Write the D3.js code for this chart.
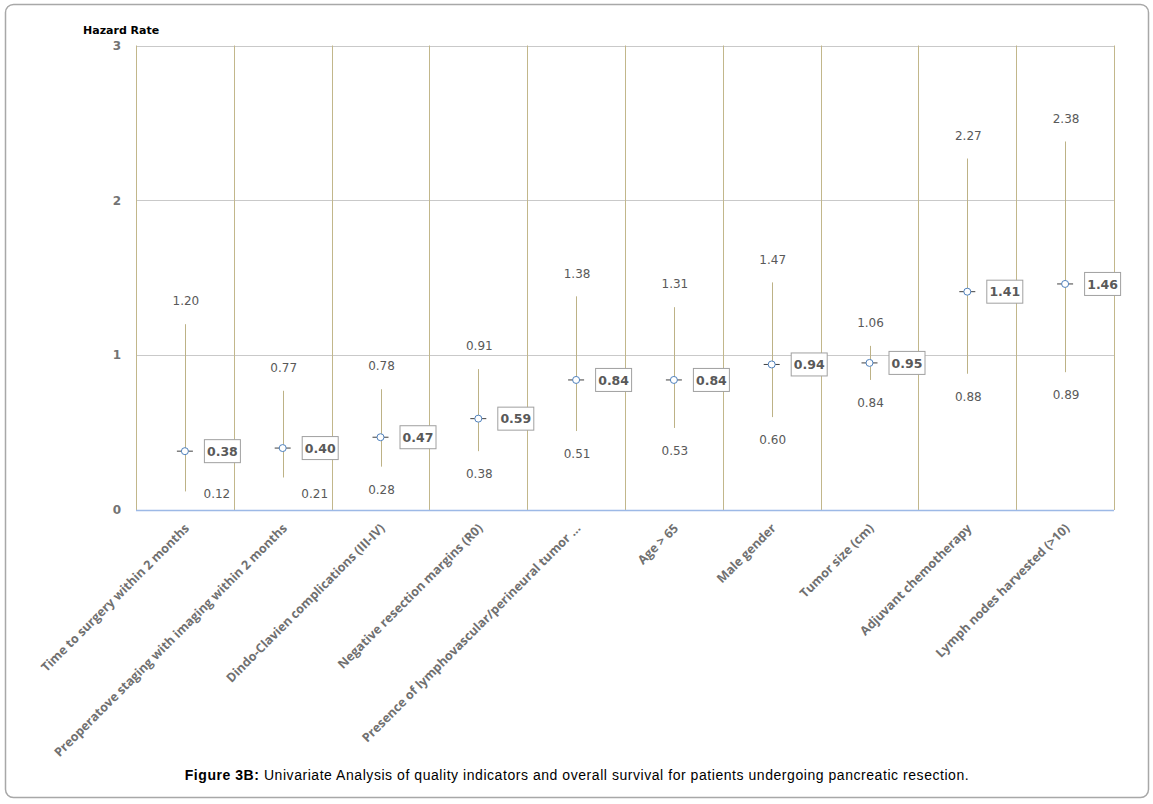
<!DOCTYPE html>
<html lang="en">
<head>
    <meta charset="UTF-8">
    <title>Figure 3B - Hazard Rate</title>
    <script src="https://cdn.jsdelivr.net/npm/d3@7"></script>
    <style>
        body {
            margin: 0;
            background: #ffffff;
        }
        .val {
            font-family: "DejaVu Sans", Verdana, sans-serif;
            font-size: 12px;
            fill: #595959;
        }
        .cat {
            font-family: "Open Sans", sans-serif;
            font-size: 12.5px;
            font-weight: bold;
            fill: #707070;
        }
        .caption {
            font-family: "Liberation Sans", Arial, sans-serif;
            font-size: 14px;
            letter-spacing: 0.55px;
            fill: #000;
        }
    </style>
</head>
<body>
    <svg id="chart" width="1153" height="804"></svg>
    <script>
        const categories = [
            "Time to surgery within 2 months",
            "Preoperatove staging with imaging within 2 months",
            "Dindo-Clavien complications (III-IV)",
            "Negative resection margins (R0)",
            "Presence of lymphovascular/perineural tumor ...",
            "Age > 65",
            "Male gender",
            "Tumor size (cm)",
            "Adjuvant chemotherapy",
            "Lymph nodes harvested (>10)"
        ];
        const lowValues  = [0.12, 0.21, 0.28, 0.38, 0.51, 0.53, 0.60, 0.84, 0.88, 0.89];
        const meanValues = [0.38, 0.40, 0.47, 0.59, 0.84, 0.84, 0.94, 0.95, 1.41, 1.46];
        const highValues = [1.20, 0.77, 0.78, 0.91, 1.38, 1.31, 1.47, 1.06, 2.27, 2.38];
        const yTicks = [0, 1, 2, 3];

        const rows = categories.map((c, i) => ({
            cat: c, low: lowValues[i], mean: meanValues[i], high: highValues[i]
        }));

        const svg = d3.select("#chart");

        // outer frame
        svg.append("rect")
            .attr("x", 5.5).attr("y", 4.5)
            .attr("width", 1143).attr("height", 793)
            .attr("rx", 8)
            .attr("fill", "none")
            .attr("stroke", "#a8a8a8")
            .attr("stroke-width", 1.5);

        const x = d3.scaleBand().domain(categories).range([136, 1114]);
        const y = d3.scaleLinear().domain([0, 3]).range([510, 45.5]);
        const cx = d => x(d.cat) + x.bandwidth() / 2;

        // horizontal gridlines
        svg.append("g").selectAll("line")
            .data(yTicks.filter(t => t > 0))
            .enter().append("line")
            .attr("x1", 136).attr("x2", 1114)
            .attr("y1", d => Math.round(y(d)) + 0.5)
            .attr("y2", d => Math.round(y(d)) + 0.5)
            .attr("stroke", "#c9c9c9");

        // vertical category lines
        const edges = categories.map(c => x(c)).concat([x.range()[1]]);
        svg.append("g").selectAll("line")
            .data(edges)
            .enter().append("line")
            .attr("x1", d => Math.round(d) + 0.5).attr("x2", d => Math.round(d) + 0.5)
            .attr("y1", y(3)).attr("y2", y(0))
            .attr("stroke", "#c2b78b");

        // x axis baseline
        svg.append("line")
            .attr("x1", 136).attr("x2", 1114)
            .attr("y1", y(0) + 0.5).attr("y2", y(0) + 0.5)
            .attr("stroke", "#9db9e6")
            .attr("stroke-width", 1.5);

        // y tick labels
        svg.append("g").selectAll("text")
            .data(yTicks)
            .enter().append("text")
            .attr("class", "val")
            .attr("x", 121)
            .attr("y", d => y(d))
            .attr("dy", "0.35em")
            .attr("text-anchor", "end")
            .style("font-weight", "bold")
            .style("fill", "#737373")
            .text(d => d);

        svg.append("text")
            .attr("x", 83).attr("y", 34)
            .style("font-family", "'DejaVu Sans', Verdana, sans-serif")
            .style("font-size", "11px")
            .style("font-weight", "bold")
            .text("Hazard Rate");

        // whiskers
        const g = svg.append("g");
        g.selectAll(".whisker")
            .data(rows)
            .enter().append("line")
            .attr("x1", d => Math.round(cx(d)) + 0.5).attr("x2", d => Math.round(cx(d)) + 0.5)
            .attr("y1", d => y(d.low)).attr("y2", d => y(d.high))
            .attr("stroke", "#bdb286");

        // mean dash + circle
        g.selectAll(".dash")
            .data(rows)
            .enter().append("line")
            .attr("x1", d => cx(d) - 8).attr("x2", d => cx(d) + 8)
            .attr("y1", d => y(d.mean)).attr("y2", d => y(d.mean))
            .attr("stroke", "#404040");

        g.selectAll("circle")
            .data(rows)
            .enter().append("circle")
            .attr("cx", d => cx(d)).attr("cy", d => y(d.mean))
            .attr("r", 3.5)
            .attr("fill", "#fff")
            .attr("stroke", "#4f81bd");

        // high labels
        g.selectAll(".hi")
            .data(rows)
            .enter().append("text")
            .attr("class", "val")
            .attr("x", d => cx(d) + 1)
            .attr("y", d => y(d.high) - 23)
            .attr("dy", "0.35em")
            .attr("text-anchor", "middle")
            .text(d => d.high.toFixed(2));

        // low labels (moved right when they would fall under the axis)
        g.selectAll(".lo")
            .data(rows)
            .enter().append("text")
            .attr("class", "val")
            .attr("x", d => y(d.low) + 23 > y(0) - 10 ? cx(d) + 32 : cx(d) + 1)
            .attr("y", d => Math.min(y(d.low) + 23, y(0) - 16))
            .attr("dy", "0.35em")
            .attr("text-anchor", "middle")
            .text(d => d.low.toFixed(2));

        // mean label boxes
        const box = g.selectAll(".box")
            .data(rows)
            .enter().append("g")
            .attr("transform", d => `translate(${cx(d) + 37},${y(d.mean)})`);
        box.append("rect")
            .attr("x", -17.5).attr("y", -11.5)
            .attr("width", 36).attr("height", 23)
            .attr("fill", "#fff")
            .attr("stroke", "#a0a0a0");
        box.append("text")
            .attr("class", "val")
            .attr("x", 0.5)
            .attr("dy", "0.38em")
            .attr("text-anchor", "middle")
            .style("font-weight", "bold")
            .style("font-size", "12.5px")
            .text(d => d.mean.toFixed(2));

        // category labels
        svg.append("g").selectAll("text")
            .data(rows)
            .enter().append("text")
            .attr("class", "cat")
            .attr("transform", d => `translate(${cx(d) + 2},${y(0) + 16}) rotate(-45)`)
            .attr("text-anchor", "end")
            .attr("dy", "0.35em")
            .text(d => d.cat);

        // caption
        const cap = svg.append("text")
            .attr("class", "caption")
            .attr("x", 577).attr("y", 780)
            .attr("text-anchor", "middle");
        cap.append("tspan").style("font-weight", "bold").text("Figure 3B:");
        cap.append("tspan").text(" Univariate Analysis of quality indicators and overall survival for patients undergoing pancreatic resection.");
    </script>
</body>
</html>
